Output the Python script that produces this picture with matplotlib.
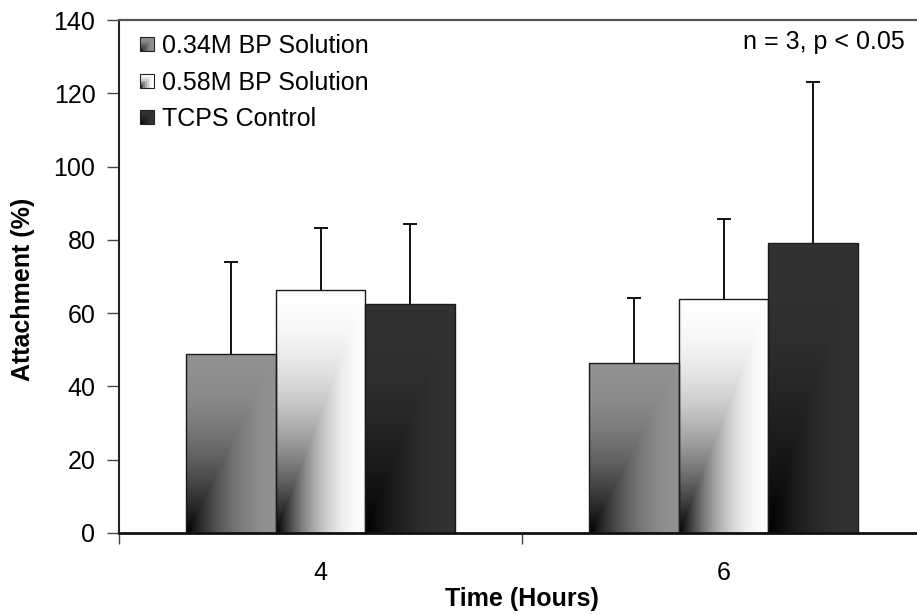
import numpy as np
import matplotlib
matplotlib.use("Agg")
import matplotlib.pyplot as plt
from matplotlib.patches import Rectangle
from matplotlib.legend_handler import HandlerBase

plt.rcParams['font.family'] = ['Liberation Sans', 'DejaVu Sans']

# ---- data ----
categories = ['4', '6']
series_names = ['0.34M BP Solution', '0.58M BP Solution', 'TCPS Control']
means = {
    '0.34M BP Solution': [48.8, 46.4],
    '0.58M BP Solution': [66.3, 63.8],
    'TCPS Control': [62.6, 79.2],
}
errors = {
    '0.34M BP Solution': [25.1, 17.8],
    '0.58M BP Solution': [16.9, 21.8],
    'TCPS Control': [21.7, 43.8],
}
y_ticks = [0, 20, 40, 60, 80, 100, 120, 140]
annotation = 'n = 3, p < 0.05'

# ---- style ----
base_colors = {
    '0.34M BP Solution': np.array([0.57, 0.57, 0.57]),
    '0.58M BP Solution': np.array([0.995, 0.995, 0.995]),
    'TCPS Control': np.array([0.20, 0.20, 0.20]),
}
FS = 18


def gradient_rgb(base, n=200):
    u = np.linspace(0, 1, n)[None, :]
    v = np.linspace(0, 1, n)[:, None]
    t = np.maximum(u, v)
    f = 1 - (1 - t) ** 2
    return f[:, :, None] * base[None, None, :]


fig = plt.figure(figsize=(9.17, 6.15), dpi=100)
AX_W, AX_H = 806, 513
ax = fig.add_axes([119 / 917, 82 / 615, AX_W / 917, AX_H / 615])

x = np.arange(len(categories))
width = 0.2233
offsets = [-width, 0, width]

for name, off in zip(series_names, offsets):
    bars = ax.bar(x + off, means[name], width, facecolor='none',
                  edgecolor='#1a1a1a', linewidth=1.0, zorder=3)
    eb = ax.errorbar(x + off, means[name],
                     yerr=[np.zeros(len(categories)), errors[name]],
                     fmt='none', ecolor='#111111', elinewidth=1.4, capsize=5,
                     capthick=1.4, zorder=4)
    caplines = eb.lines[1]
    if len(caplines) == 2:
        caplines[0].set_visible(False)
    img = gradient_rgb(base_colors[name])
    for b in bars:
        bx, by = b.get_x(), b.get_y()
        bw, bh = b.get_width(), b.get_height()
        im = ax.imshow(img, extent=[bx, bx + bw, by, by + bh], origin='lower',
                       aspect='auto', interpolation='bilinear', zorder=2)
        im.set_clip_path(b)


class GradHandler(HandlerBase):
    def __init__(self, base):
        super().__init__()
        self.base = base

    def create_artists(self, legend, orig_handle, xdescent, ydescent,
                       width, height, fontsize, trans):
        s = width
        x0 = -xdescent
        y0 = -ydescent + (height - s) / 2
        n = 8
        arts = []
        for i in range(n):
            for j in range(n):
                t = max((i + 0.5) / n, (j + 0.5) / n)
                f = 1 - (1 - t) ** 2
                c = np.clip(self.base * f, 0, 1)
                arts.append(Rectangle((x0 + i * s / n, y0 + j * s / n), s / n, s / n,
                                      facecolor=c, edgecolor='none', transform=trans))
        arts.append(Rectangle((x0, y0), s, s, facecolor='none',
                              edgecolor='#222222', linewidth=0.8, transform=trans))
        return arts


handles = [Rectangle((0, 0), 1, 1) for _ in series_names]
hmap = {h: GradHandler(base_colors[n]) for h, n in zip(handles, series_names)}
leg = ax.legend(handles, series_names, handler_map=hmap, loc='upper left',
                bbox_to_anchor=(21 / AX_W, 1 - 14 / AX_H), frameon=False, fontsize=FS,
                handlelength=0.55, handleheight=0.7, handletextpad=0.35,
                labelspacing=0.5, borderaxespad=0, borderpad=0)

ax.set_xlim(-0.5, 1.5)
ax.set_ylim(0, 140)
ax.set_yticks(y_ticks)
ax.set_yticklabels([str(v) for v in y_ticks], fontsize=FS)
ax.tick_params(axis='y', direction='out', length=9, width=1.0, color='#444444', pad=8)

ax.set_xticks(x)
ax.set_xticklabels(categories, fontsize=FS)
ax.set_xticks([-0.5, 0.5, 1.5], minor=True)
ax.tick_params(axis='x', which='major', length=0, pad=20)
ax.tick_params(axis='x', which='minor', direction='out', length=8, width=1.0, color='#444444')

ax.spines['right'].set_visible(False)
ax.spines['top'].set_color('#555555')
ax.spines['top'].set_linewidth(1.6)
ax.spines['left'].set_color('#222222')
ax.spines['left'].set_linewidth(1.5)
ax.spines['bottom'].set_color('#111111')
ax.spines['bottom'].set_linewidth(2.0)
ax.spines['bottom'].set_zorder(5)

ax.set_ylabel('Attachment (%)', fontsize=FS, fontweight='bold', va='center')
ax.set_xlabel('Time (Hours)', fontsize=FS, fontweight='bold', va='center')
ax.yaxis.set_label_coords((23 - 119) / AX_W, (533 - 289) / AX_H)
ax.xaxis.set_label_coords((522 - 119) / AX_W, (533 - 599) / AX_H)

fig.text(905 / 917, 1 - 42 / 615, annotation, fontsize=FS, ha='right', va='center')

fig.savefig('out.png', dpi=100)
